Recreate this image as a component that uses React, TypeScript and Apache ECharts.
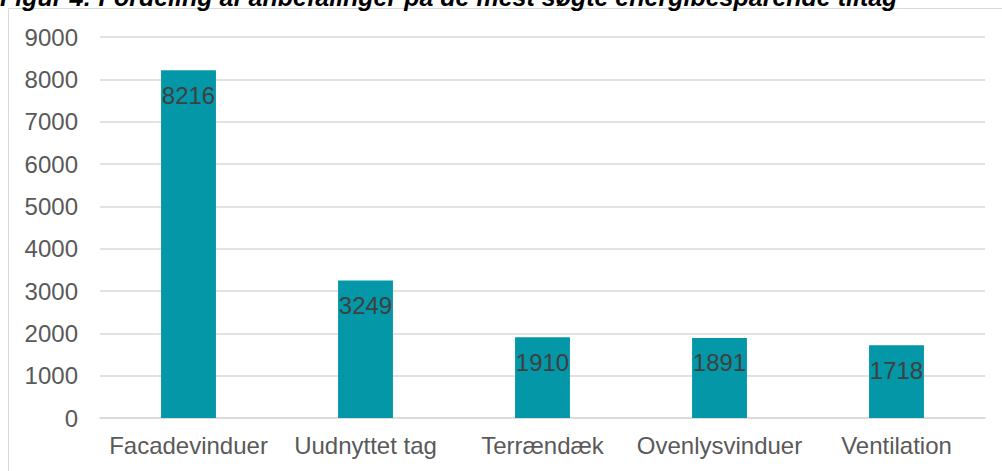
import React, { useEffect, useRef } from "react";
import * as echarts from "echarts";

const categories = ["Facadevinduer", "Uudnyttet tag", "Terrændæk", "Ovenlysvinduer", "Ventilation"];
const values = [8216, 3249, 1910, 1891, 1718];
const titleText = "Figur 4: Fordeling af anbefalinger på de mest søgte energibesparende tiltag";

export default function App() {
  const ref = useRef<HTMLDivElement>(null);
  useEffect(() => {
    if (!ref.current) return;
    const chart = echarts.init(ref.current, null, { renderer: "svg" });
    chart.setOption({
      animation: false,
      backgroundColor: "#ffffff",
      textStyle: { fontFamily: "Liberation Sans, Arial, sans-serif" },
      graphic: [
        {
          type: "rect",
          shape: { x: 8.5, y: 8.5, width: 1010, height: 480 },
          style: { fill: "none", stroke: "#d9d9d9", lineWidth: 1 },
          z: 0,
        },
        {
          type: "text",
          x: 0,
          y: 9,
          style: {
            text: titleText,
            font: "italic bold 25px 'Liberation Sans', Arial, sans-serif",
            fill: "#000000",
            verticalAlign: "bottom",
          },
        },
      ],
      grid: { left: 100, right: 17, top: 37, bottom: 53, containLabel: false },
      xAxis: {
        type: "category",
        data: categories,
        axisLine: { lineStyle: { color: "#d9d9d9", width: 1.5 } },
        axisTick: { show: false },
        axisLabel: { color: "#595959", fontSize: 24, margin: 15, interval: 0 },
      },
      yAxis: {
        type: "value",
        min: 0,
        max: 9000,
        interval: 1000,
        axisLine: { show: false },
        axisTick: { show: false },
        splitLine: { lineStyle: { color: "#d9d9d9", width: 1.5 } },
        axisLabel: { color: "#595959", fontSize: 24, margin: 22, formatter: (v: number) => String(v) },
      },
      series: [
        {
          type: "bar",
          data: values,
          barWidth: "31%",
          itemStyle: { color: "#0397a7" },
          label: {
            show: true,
            position: "insideTop",
            distance: 13,
            color: "#404040",
            fontSize: 24,
          },
        },
      ],
    });
    return () => chart.dispose();
  }, []);
  return <div ref={ref} style={{ position: "fixed", left: 0, top: 0, width: 1002, height: 471 }} />;
}
